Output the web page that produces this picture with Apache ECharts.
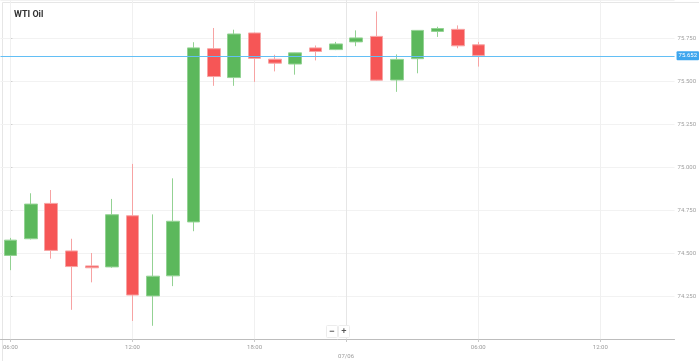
<!DOCTYPE html>
<html>
<head>
<meta charset="utf-8">
<script src="https://cdn.jsdelivr.net/npm/echarts@6/dist/echarts.min.js"></script>
<style>
  html, body { margin: 0; padding: 0; background: #fff; }
  #chart { width: 699px; height: 361px; }
</style>
</head>
<body>
<div id="chart"></div>
<script>
// Hourly candle times (session gap between 22:00 and 00:00)
const times = ['06:00','07:00','08:00','09:00','10:00','11:00','12:00','13:00','14:00','15:00','16:00','17:00','18:00','19:00','20:00','21:00','22:00','00:00','01:00','02:00','03:00','04:00','05:00','06:00'];
const opens  = [74.487,74.584,74.790,74.513,74.426,74.420,74.718,74.251,74.368,74.682,75.691,75.523,75.783,75.630,75.602,75.696,75.686,75.731,75.763,75.509,75.633,75.792,75.804,75.714];
const closes = [74.576,74.786,74.516,74.422,74.415,74.724,74.256,74.366,74.686,75.696,75.529,75.777,75.635,75.607,75.667,75.675,75.719,75.754,75.508,75.629,75.798,75.809,75.708,75.652];
const lows   = [74.401,74.580,74.468,74.170,74.330,74.415,74.105,74.077,74.308,74.628,75.475,75.475,75.498,75.559,75.540,75.623,75.683,75.706,75.505,75.440,75.548,75.760,75.694,75.587];
const highs  = [74.589,74.849,74.868,74.584,74.501,74.816,75.020,74.726,74.936,75.729,75.812,75.802,75.786,75.656,75.668,75.710,75.731,75.798,75.908,75.658,75.800,75.819,75.827,75.731];
// X axis labels (slot index on the hourly axis)
const xTickSlots  = [0, 6, 12, 16.5, 23, 29];
const xTickLabels = ['06:00', '12:00', '18:00', '07/06', '06:00', '12:00'];
const lastPrice = 75.652;
const title = 'WTI Oil';

const candleData = times.map((t, i) => [i, opens[i], closes[i], lows[i], highs[i]]);
const labelMap = {};
xTickSlots.forEach((s, i) => { labelMap[s] = xTickLabels[i]; });

const chart = echarts.init(document.getElementById('chart'), null, { renderer: 'canvas' });
chart.setOption({
  animation: false,
  backgroundColor: '#ffffff',
  title: {
    text: title, left: 9, top: 5,
    textStyle: { fontSize: 9, fontWeight: 'bold', color: '#333', fontFamily: 'Roboto, sans-serif' }
  },
  grid: { left: 0, right: 23, top: 0, bottom: 19, containLabel: false },
  xAxis: {
    type: 'value', min: -0.49, max: 32.65,
    axisLine: { show: true, lineStyle: { color: '#bdbdbd', width: 1 } },
    axisTick: { show: true, length: 3, customValues: xTickSlots, lineStyle: { color: '#c8c8c8' } },
    axisLabel: {
      customValues: xTickSlots, fontSize: 6, color: '#9a9a9a', margin: 4,
      fontFamily: 'Roboto, sans-serif', lineHeight: 9,
      formatter: v => { const s = labelMap[v] || ''; return s.indexOf('/') >= 0 ? '\n' + s : s; }
    },
    splitLine: { show: false }
  },
  yAxis: {
    type: 'value', position: 'right', min: 74.0, max: 75.975, interval: 0.25,
    axisLine: { show: true, lineStyle: { color: '#bdbdbd', width: 1 } },
    axisTick: { show: true, length: 2, lineStyle: { color: '#cfcfcf' } },
    axisLabel: {
      fontSize: 6, color: '#a0a0a0', margin: 3, fontFamily: 'Roboto, sans-serif',
      showMinLabel: false, showMaxLabel: false,
      formatter: v => v.toFixed(3)
    },
    splitLine: { show: true, lineStyle: { color: '#f2f2f2', width: 1 } }
  },
  series: [
    {
      // vertical grid lines behind candles
      type: 'line', data: [], z: 1, silent: true,
      markLine: {
        silent: true, symbol: 'none', animation: false, z: 1,
        data: xTickSlots.map(s => ({ xAxis: s, lineStyle: { color: s === 16.5 ? '#e6e6e6' : '#f0f0f0', width: 1, type: 'solid' }, label: { show: false } }))
      }
    },
    {
      type: 'candlestick',
      z: 3,
      data: candleData,
      encode: { x: 0, y: [1, 2, 3, 4] },
      barWidth: 13,
      itemStyle: {
        color: '#5cb85c', color0: '#f65656',
        borderColor: '#93d293', borderColor0: '#f7a3a3', borderWidth: 1
      },
      markLine: {
        silent: true, symbol: 'none', animation: false,
        data: [
          {
            yAxis: lastPrice,
            lineStyle: { color: '#63bff5', width: 1, type: 'solid' },
            label: {
              show: true, position: 'end', distance: 2,
              formatter: lastPrice.toFixed(3),
              color: '#fff', fontSize: 6, fontFamily: 'Roboto, sans-serif',
              backgroundColor: '#3ea6ee', padding: [2, 2, 1, 2], borderRadius: 1
            }
          }
        ]
      }
    }
  ],
  graphic: [
    { type: 'rect', left: 0, top: 0, shape: { x: 0.5, y: 0.5, width: 697, height: 359 }, style: { fill: 'none', stroke: '#e6e6e6', lineWidth: 1 }, silent: true, z: -1 },
    { type: 'rect', shape: { x: 326.5, y: 325.5, width: 11, height: 12, r: 1 }, style: { fill: '#fff', stroke: '#ececec', lineWidth: 1 }, z: 100 },
    { type: 'rect', shape: { x: 338.5, y: 325.5, width: 11, height: 12, r: 1 }, style: { fill: '#fff', stroke: '#ececec', lineWidth: 1 }, z: 100 },
    { type: 'text', style: { x: 332, y: 331.5, text: '−', fill: '#555', fontSize: 9, fontWeight: 'bold', align: 'center', verticalAlign: 'middle' }, z: 101 },
    { type: 'text', style: { x: 344, y: 331.5, text: '+', fill: '#555', fontSize: 9, fontWeight: 'bold', align: 'center', verticalAlign: 'middle' }, z: 101 }
  ]
});
</script>
</body>
</html>
